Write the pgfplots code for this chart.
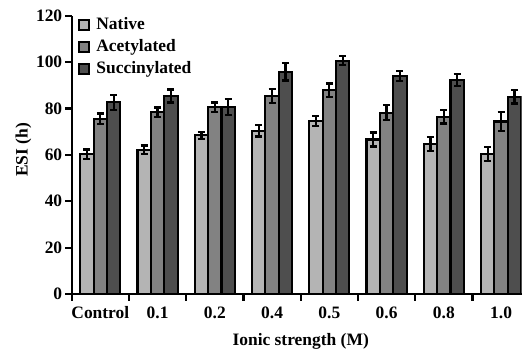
\documentclass[border=0pt]{standalone}
\usepackage{fontspec}
\setmainfont{Liberation Serif}
\usepackage{pgfplots}
\pgfplotsset{compat=1.18}
\definecolor{cN}{HTML}{B4B4B4}
\definecolor{cA}{HTML}{828282}
\definecolor{cS}{HTML}{4E4E4E}
\begin{document}
\fontsize{17.5}{20}\selectfont\bfseries
\begin{tikzpicture}
\path[use as bounding box] (-71.7bp,-59bp) rectangle (453.3bp,294bp);
\begin{axis}[
  at={(0,0)}, anchor=south west,
  scale only axis, width=450bp, height=278.3bp,
  ybar=0pt, bar width=13.4bp,
  xmin=-0.5, xmax=7.36, ymin=0, ymax=120,
  axis x line=bottom, axis y line=left,
  axis line style={-, line width=2.2bp, black},
  tick align=outside,
  major tick length=6.5bp, minor tick length=6.5bp,
  tick style={line width=2.2bp, black},
  ytick={0,20,...,120},
  yticklabel style={xshift=3bp},
  xtick={0,...,7},
  xticklabels={Control,0.1,0.2,0.4,0.5,0.6,0.8,1.0},
  x tick style={draw=none},
  minor xtick={-0.5,0.5,...,6.5},
  minor x tick style={draw=black, line width=2.2bp},
  /pgf/number format/assume math mode=true,
  xlabel={Ionic strength (M)},
  ylabel={ESI (h)},
  xlabel style={at={(axis cs:3.5,0)}, anchor=north, yshift=-33bp},
  ylabel style={yshift=-7bp, xshift=5bp},
  legend style={at={(0.014,1)}, anchor=north west, draw=none, fill=none,
    inner sep=0pt, outer sep=0pt, row sep=4.5bp,
    nodes={inner sep=1.5bp},
    /tikz/every odd column/.append style={column sep=5bp}},
  legend cell align=left,
  legend image code/.code={\draw[#1, line width=1.9bp] (0bp,-5bp) rectangle (10bp,5bp);},
  every axis plot/.append style={draw=black, line width=2.1bp},
  error bars/error bar style={line width=2.2bp, black},
  error bars/error mark options={rotate=90, mark size=3.5bp, line width=2.2bp, black},
]
\addplot[fill=cN, error bars/.cd, y dir=both, y explicit] coordinates {
  (0,60.3) +- (0,2)
  (1,62.2) +- (0,1.8)
  (2,68.4) +- (0,1.6)
  (3,70.4) +- (0,2.5)
  (4,74.6) +- (0,2)
  (5,66.6) +- (0,3)
  (6,64.6) +- (0,3)
  (7,60.4) +- (0,3)
};
\addplot[fill=cA, error bars/.cd, y dir=both, y explicit] coordinates {
  (0,75.5) +- (0,2.3)
  (1,78.4) +- (0,2)
  (2,80.6) +- (0,2)
  (3,85.4) +- (0,3)
  (4,87.8) +- (0,3)
  (5,78.2) +- (0,3.3)
  (6,76.5) +- (0,3)
  (7,74.4) +- (0,4)
};
\addplot[fill=cS, error bars/.cd, y dir=both, y explicit] coordinates {
  (0,82.6) +- (0,3.3)
  (1,85.4) +- (0,2.8)
  (2,80.6) +- (0,3.5)
  (3,95.8) +- (0,3.7)
  (4,100.6) +- (0,2)
  (5,94.0) +- (0,2)
  (6,92.3) +- (0,2.7)
  (7,85.1) +- (0,3)
};
\legend{Native,Acetylated,Succinylated}
\end{axis}
\end{tikzpicture}
\end{document}
